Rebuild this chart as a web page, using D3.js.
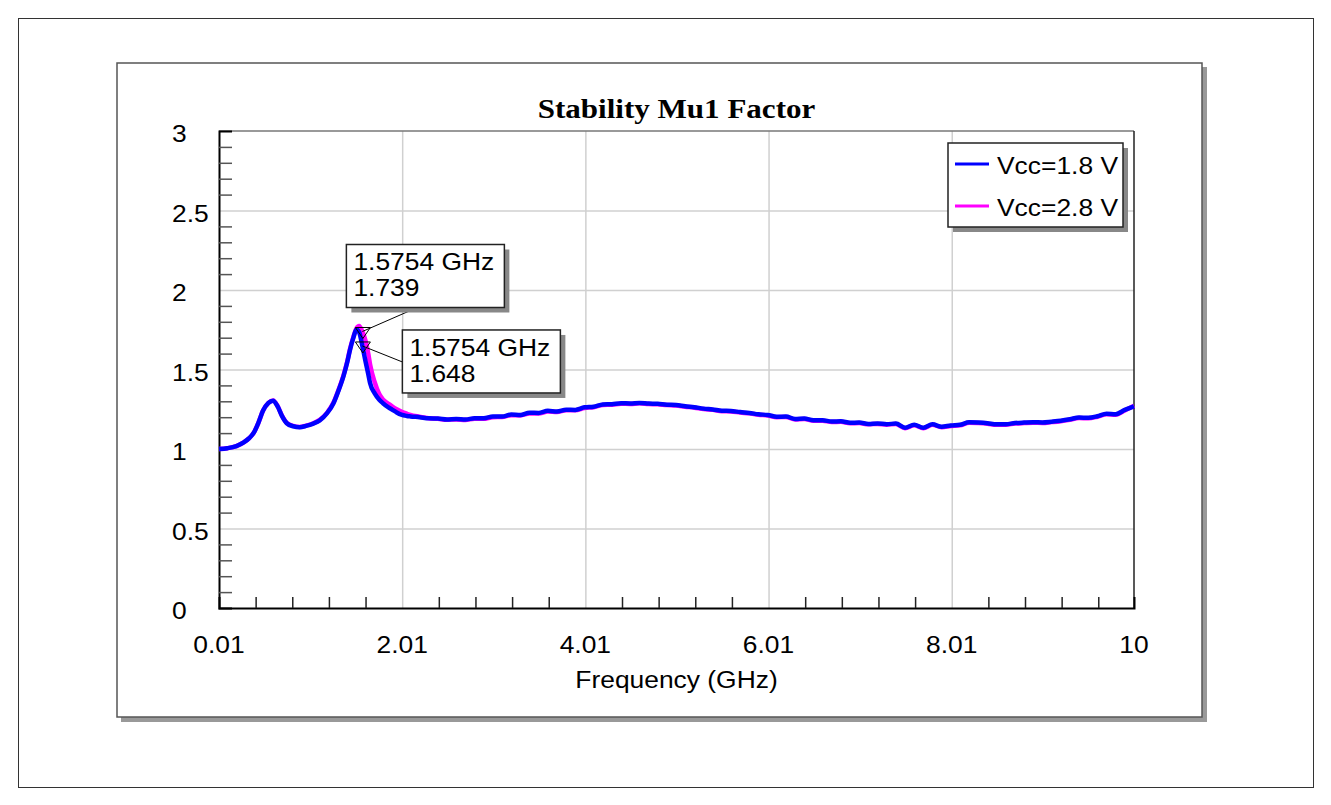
<!DOCTYPE html>
<meta charset="utf-8">
<head>
    <meta charset="UTF-8">
    <title>Stability Mu1 Factor</title>
    <style>
      body { margin: 0; background: #fff; }
      text { font-family: "Liberation Sans", Arial, sans-serif; fill: #000; }
    </style>
</head>
<body>
<script src="https://d3js.org/d3.v7.min.js"></script>
<div id="chart"></div>
<script>

    // frequency grid (GHz), shared by both series
    const freq = [0.01, 0.1, 0.2, 0.28, 0.34, 0.39, 0.44, 0.49, 0.55, 0.6, 0.65, 0.7, 0.75, 0.82, 0.89, 0.96,
      1.04, 1.11, 1.19, 1.26, 1.31, 1.37, 1.41, 1.44, 1.48, 1.51, 1.54, 1.5754, 1.61, 1.64, 1.66, 1.71, 1.76,
      1.8, 1.86, 1.9, 1.95, 2.0, 2.06, 2.1, 2.2, 2.3, 2.4, 2.5, 2.6, 2.7, 2.8, 2.9, 3.0, 3.1, 3.2, 3.3, 3.4,
      3.5, 3.6, 3.7, 3.8, 3.9, 4.0, 4.1, 4.2, 4.3, 4.4, 4.5, 4.6, 4.7, 4.8, 4.9, 5.0, 5.1, 5.2, 5.3, 5.4, 5.5,
      5.6, 5.7, 5.8, 5.9, 6.0, 6.1, 6.2, 6.3, 6.4, 6.5, 6.6, 6.7, 6.8, 6.9, 7.0, 7.1, 7.2, 7.3, 7.4, 7.5, 7.6,
      7.7, 7.8, 7.9, 8.0, 8.1, 8.2, 8.3, 8.4, 8.5, 8.6, 8.7, 8.8, 8.9, 9.0, 9.1, 9.2, 9.3, 9.4, 9.5, 9.6, 9.7,
      9.8, 9.9, 10.0]

    // Vcc=1.8 V
    const mu18 = [1.000, 1.005, 1.018, 1.041, 1.068, 1.103, 1.165, 1.240, 1.290, 1.304, 1.268, 1.205, 1.162, 1.143, 1.137, 1.145,
      1.160, 1.180, 1.225, 1.288, 1.360, 1.460, 1.545, 1.623, 1.705, 1.752, 1.735, 1.648, 1.550, 1.470, 1.413, 1.350, 1.310,
      1.288, 1.262, 1.248, 1.230, 1.216, 1.208, 1.205, 1.200, 1.193, 1.192, 1.186, 1.189, 1.186, 1.193, 1.193, 1.204, 1.204, 1.217, 1.214, 1.228,
      1.227, 1.240, 1.236, 1.247, 1.246, 1.262, 1.266, 1.280, 1.282, 1.288, 1.286, 1.290, 1.286, 1.284, 1.279, 1.277, 1.269, 1.263, 1.254, 1.249, 1.241,
      1.239, 1.232, 1.227, 1.218, 1.214, 1.203, 1.204, 1.189, 1.192, 1.181, 1.181, 1.173, 1.174, 1.165, 1.166, 1.158, 1.161, 1.156, 1.160, 1.134, 1.153,
      1.134, 1.155, 1.140, 1.148, 1.152, 1.168, 1.166, 1.162, 1.155, 1.156, 1.163, 1.166, 1.168, 1.167, 1.172, 1.178, 1.187, 1.198, 1.196, 1.206, 1.222,
      1.219, 1.246, 1.268]

    // Vcc=2.8 V
    const mu28 = [1.000, 1.005, 1.018, 1.041, 1.068, 1.103, 1.165, 1.240, 1.290, 1.305, 1.270, 1.207, 1.164, 1.145, 1.139, 1.147,
      1.162, 1.183, 1.228, 1.292, 1.365, 1.465, 1.550, 1.628, 1.710, 1.758, 1.774, 1.739, 1.680, 1.600, 1.530, 1.420, 1.345,
      1.312, 1.285, 1.268, 1.250, 1.235, 1.222, 1.214, 1.203, 1.194, 1.190, 1.184, 1.186, 1.183, 1.190, 1.190, 1.200, 1.201, 1.213, 1.211, 1.224,
      1.223, 1.236, 1.233, 1.243, 1.243, 1.258, 1.263, 1.277, 1.279, 1.285, 1.283, 1.287, 1.283, 1.281, 1.276, 1.273, 1.266, 1.260, 1.251, 1.246, 1.238,
      1.236, 1.229, 1.224, 1.215, 1.211, 1.200, 1.201, 1.186, 1.189, 1.178, 1.178, 1.170, 1.171, 1.162, 1.163, 1.155, 1.158, 1.153, 1.157, 1.131, 1.150,
      1.131, 1.152, 1.137, 1.145, 1.149, 1.165, 1.163, 1.159, 1.152, 1.153, 1.160, 1.163, 1.165, 1.164, 1.169, 1.175, 1.184, 1.195, 1.193, 1.203, 1.219,
      1.216, 1.243, 1.272]

    const seriesNames = ["Vcc=1.8 V", "Vcc=2.8 V"]
    const seriesColors = ["#0000ff", "#ff00ff"]

    // axis ticks
    const xMajor = [0.01, 2.01, 4.01, 6.01, 8.01, 10]
    const xLabels = ["0.01", "2.01", "4.01", "6.01", "8.01", "10"]
    const yMajor = [0, 0.5, 1, 1.5, 2, 2.5, 3]
    const yLabels = ["0", "0.5", "1", "1.5", "2", "2.5", "3"]

    // markers: [freq, value, series index]
    const markers = [[1.5754, 1.739, 1], [1.5754, 1.648, 0]]
    const markerText = [["1.5754 GHz", "1.739"], ["1.5754 GHz", "1.648"]]

    const W = 1331, H = 805
    const plot = {left: 219, right: 1134, top: 131, bottom: 608}
    const sx = 1.1  // text looks a bit wide in the source

    const svg = d3.select("#chart")
      .append("svg")
        .attr("width", W)
        .attr("height", H)

    const x = d3.scaleLinear().domain([0.01, 10]).range([plot.left, plot.right])
    const y = d3.scaleLinear().domain([0, 3]).range([plot.bottom, plot.top])

    function label(g, px, py, str, anchor, size, extra, stretch) {
      const t = g.append("text")
        .attr("transform", `translate(${px},${py}) scale(${stretch || sx},1)`)
        .attr("text-anchor", anchor)
        .style("font-size", size + "px")
        .text(str)
      if (extra) extra(t)
      return t
    }

    // outer page border
    svg.append("rect")
      .attr("x", 18.5).attr("y", 18.5)
      .attr("width", 1295).attr("height", 769)
      .attr("fill", "none").attr("stroke", "#333").attr("stroke-width", 1)

    // panel with drop shadow
    svg.append("rect")
      .attr("x", 121).attr("y", 67)
      .attr("width", 1086).attr("height", 655)
      .attr("fill", "#999")
    svg.append("rect")
      .attr("x", 117).attr("y", 63)
      .attr("width", 1085).attr("height", 654)
      .attr("fill", "#fff").attr("stroke", "#555").attr("stroke-width", 1.5)

    // grid
    svg.append("g")
      .attr("transform", `translate(${plot.left},0)`)
      .call(d3.axisLeft(y).tickValues(yMajor.slice(1, -1)).tickSize(-(plot.right - plot.left)).tickFormat(""))
      .call(g => g.select(".domain").remove())
      .selectAll("line").attr("stroke", "#d0d0d0").attr("stroke-width", 1.5)
    svg.append("g")
      .attr("transform", `translate(0,${plot.bottom})`)
      .call(d3.axisBottom(x).tickValues(xMajor.slice(1, -1)).tickSize(-(plot.bottom - plot.top)).tickFormat(""))
      .call(g => g.select(".domain").remove())
      .selectAll("line").attr("stroke", "#d0d0d0").attr("stroke-width", 1.5)

    // top / right frame of the plot
    svg.append("line")
      .attr("x1", plot.left).attr("x2", plot.right).attr("y1", plot.top).attr("y2", plot.top)
      .attr("stroke", "#777").attr("stroke-width", 1.5)
    svg.append("line")
      .attr("x1", plot.right).attr("x2", plot.right).attr("y1", plot.top).attr("y2", plot.bottom)
      .attr("stroke", "#222").attr("stroke-width", 1.5)

    // minor ticks
    const yMinor = d3.range(1, 30).filter(i => i % 5 !== 0).map(i => i / 10)
    const xMinor = d3.range(1, 25).filter(i => i % 5 !== 0).map(i => 0.01 + i * 0.4)

    svg.append("g")
      .attr("transform", `translate(${plot.left},0)`)
      .call(d3.axisLeft(y).tickValues(yMinor).tickSize(-13).tickFormat(""))
      .call(g => g.select(".domain").attr("stroke", "#000").attr("stroke-width", 2))
      .selectAll(".tick line").attr("stroke", "#555").attr("stroke-width", 1.5)
    svg.append("g")
      .attr("transform", `translate(0,${plot.bottom})`)
      .call(d3.axisBottom(x).tickValues(xMinor).tickSize(-11).tickFormat(""))
      .call(g => g.select(".domain").attr("stroke", "#000").attr("stroke-width", 2))
      .selectAll(".tick line").attr("stroke", "#222").attr("stroke-width", 1.5)

    // tick labels
    const lab = svg.append("g")
    yMajor.forEach((v, i) => label(lab, 172, y(v) + 11, yLabels[i], "start", 24))
    xMajor.forEach((v, i) => label(lab, x(v), 653, xLabels[i], "middle", 24))

    // axis title and chart title
    label(svg, (plot.left + plot.right) / 2, 688, "Frequency (GHz)", "middle", 24)
    label(svg, (plot.left + plot.right) / 2, 118, "Stability Mu1 Factor", "middle", 27, t => t
      .style("font-family", "'Liberation Serif', 'Times New Roman', serif")
      .style("font-weight", "bold"), 1.15)

    // curves
    const line = d3.line()
      .x((d, i) => x(freq[i]))
      .y(d => y(d))
      .curve(d3.curveMonotoneX)

    const series = [mu18, mu28]
    ;[1, 0].forEach(k => {
      svg.append("path")
        .datum(series[k])
        .attr("fill", "none")
        .attr("stroke", seriesColors[k])
        .attr("stroke-width", 4.5)
        .attr("stroke-linejoin", "round")
        .attr("d", line)
    })

    // marker annotations
    const boxOffsets = [[-16, -87, 158, 63, 71, 63], [40, -16, 158, 63, 0, 32]]
    markers.forEach((m, i) => {
      const px = x(m[0]), py = y(m[1])
      const [dx, dy, bw, bh, lx, ly] = boxOffsets[i]
      const bx = px + dx, by = py + dy
      const g = svg.append("g")
      g.append("line")
        .attr("x1", bx + lx).attr("y1", by + ly)
        .attr("x2", px).attr("y2", py)
        .attr("stroke", "#000").attr("stroke-width", 1)
      g.append("path")
        .attr("d", `M${px - 7},${py - 4}L${px + 8},${py - 4}L${px + 0.5},${py + 7}Z`)
        .attr("fill", "none").attr("stroke", "#000").attr("stroke-width", 1)
      g.append("rect")
        .attr("x", bx + 5).attr("y", by + 5).attr("width", bw).attr("height", bh)
        .attr("fill", "#888")
      g.append("rect")
        .attr("x", bx).attr("y", by).attr("width", bw).attr("height", bh)
        .attr("fill", "#fff").attr("stroke", "#222").attr("stroke-width", 1.5)
      label(g, bx + 7, by + 26, markerText[i][0], "start", 24)
      label(g, bx + 7, by + 52, markerText[i][1], "start", 24)
    })

    // legend
    const leg = svg.append("g").attr("transform", "translate(948,143)")
    leg.append("rect").attr("x", 5).attr("y", 5).attr("width", 175).attr("height", 84).attr("fill", "#888")
    leg.append("rect").attr("x", 0).attr("y", 0).attr("width", 175).attr("height", 84)
      .attr("fill", "#fff").attr("stroke", "#222").attr("stroke-width", 1.5)
    seriesNames.forEach((name, i) => {
      const ly = 21 + i * 42
      leg.append("line")
        .attr("x1", 7).attr("x2", 41).attr("y1", ly).attr("y2", ly)
        .attr("stroke", seriesColors[i]).attr("stroke-width", 3)
      label(leg, 49, ly + 10, name, "start", 24)
    })
</script>
</body>
